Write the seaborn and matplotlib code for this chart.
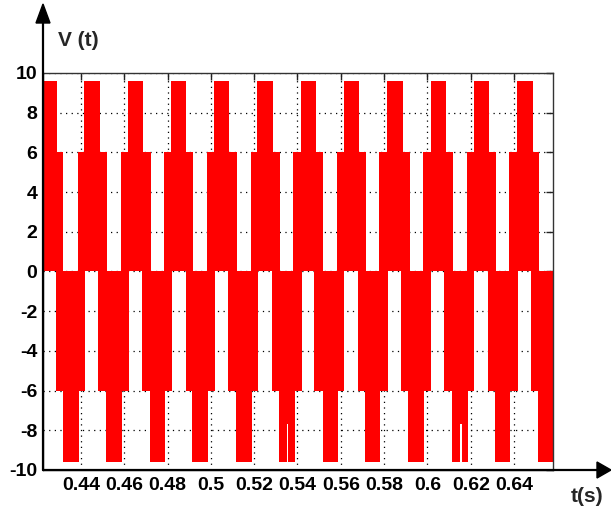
import matplotlib
matplotlib.use("Agg")
import matplotlib.pyplot as plt
import seaborn as sns
import pandas as pd
from matplotlib.patches import Polygon
from matplotlib.lines import Line2D
from matplotlib.ticker import FormatStrFormatter

# levels of the multilevel output voltage
v_mid = 6.0
v_peak = 9.6
notch_top = -7.7

# switching envelopes (seconds)
pos_band_start = [0.4182, 0.4385, 0.4583, 0.4783, 0.4981, 0.5184, 0.5381, 0.5581, 0.5778, 0.5978, 0.6182, 0.6378, 0.6579]
pos_band_end = [0.4318, 0.4521, 0.4723, 0.4919, 0.5122, 0.5319, 0.5519, 0.5716, 0.5920, 0.6117, 0.6317, 0.6514, 0.6720]
pos_peak_start = [0.4220, 0.4415, 0.4618, 0.4816, 0.5014, 0.5214, 0.5415, 0.5615, 0.5815, 0.6015, 0.6215, 0.6415]
pos_peak_end = [0.4291, 0.4488, 0.4688, 0.4885, 0.5085, 0.5285, 0.5485, 0.5685, 0.5886, 0.6086, 0.6286, 0.6486]
neg_band_start = [0.4085, 0.4287, 0.4480, 0.4683, 0.4885, 0.5080, 0.5284, 0.5478, 0.5681, 0.5878, 0.6078, 0.6279, 0.6479]
neg_band_end = [0.4226, 0.4421, 0.4623, 0.4822, 0.5020, 0.5219, 0.5419, 0.5615, 0.5817, 0.6015, 0.6217, 0.6417, 0.6620]
neg_peak_start = [0.4318, 0.4515, 0.4719, 0.4914, 0.5116, 0.5315, 0.5516, 0.5712, 0.5912, 0.6112, 0.6312, 0.6512]
neg_peak_end = [0.4392, 0.4588, 0.4788, 0.4985, 0.5188, 0.5388, 0.5586, 0.5781, 0.5984, 0.6186, 0.6382, 0.6582]
notch_start = [0.5350, 0.6151]
notch_end = [0.5357, 0.6158]

x_ticks = [0.44, 0.46, 0.48, 0.50, 0.52, 0.54, 0.56, 0.58, 0.60, 0.62, 0.64]
y_ticks = [-10, -8, -6, -4, -2, 0, 2, 4, 6, 8, 10]


def segments(starts, ends, low, high):
    return pd.DataFrame({"start": starts, "end": ends, "low": low, "high": high})


df = pd.concat([
    segments(pos_band_start, pos_band_end, 0, v_mid),
    segments(pos_peak_start, pos_peak_end, v_mid, v_peak),
    segments(neg_band_start, neg_band_end, -v_mid, 0),
    segments(neg_peak_start, neg_peak_end, -v_peak, -v_mid),
], ignore_index=True)
notches = segments(notch_start, notch_end, -v_peak - 0.1, notch_top)

sns.set_style("white")
plt.rcParams["font.family"] = ["Liberation Sans", "DejaVu Sans"]
plt.rcParams["axes.unicode_minus"] = False

W, H = 611, 514
fig = plt.figure(figsize=(W / 100, H / 100), dpi=100)
left, right, top, bottom = 43, 553, 73, 470
ax = fig.add_axes([left / W, 1 - bottom / H, (right - left) / W, (bottom - top) / H])

ax.bar(df["start"], df["high"] - df["low"], width=df["end"] - df["start"],
       bottom=df["low"], align="edge", color="#ff0000", linewidth=0, zorder=2)
ax.bar(notches["start"], notches["high"] - notches["low"], width=notches["end"] - notches["start"],
       bottom=notches["low"], align="edge", color="white", linewidth=0, zorder=3)

ax.set_xlim(0.4225, 0.658)
ax.set_ylim(-10, 10)
ax.set_xticks(x_ticks)
ax.set_yticks(y_ticks)
ax.xaxis.set_major_formatter(FormatStrFormatter("%g"))
ax.set_axisbelow(True)
ax.grid(True, color="black", linestyle=(0, (1, 3.5)), linewidth=0.9)
ax.tick_params(direction="in", length=5, width=1, top=True, right=True, colors="#222222",
               labelcolor="black", labelsize=14)
ax.tick_params(axis="x", pad=5)
ax.tick_params(axis="y", pad=4)
for lab in ax.get_xticklabels() + ax.get_yticklabels():
    lab.set_fontweight("bold")
for s in ax.spines.values():
    s.set_color("#333333")
    s.set_linewidth(1.0)


def fx(px):
    return px / W


def fy(py):
    return 1 - py / H


# axis arrows
fig.add_artist(Line2D([fx(left), fx(left)], [fy(bottom), fy(22)], color="black", lw=1.6))
fig.add_artist(Polygon([[fx(36), fy(23)], [fx(50), fy(23)], [fx(43), fy(4)]], closed=True,
                       color="black", transform=fig.transFigure))
fig.add_artist(Line2D([fx(left), fx(598)], [fy(bottom), fy(bottom)], color="black", lw=1.6))
fig.add_artist(Polygon([[fx(597), fy(462)], [fx(597), fy(478)], [fx(611), fy(470)]], closed=True,
                       color="black", transform=fig.transFigure))

fig.text(fx(58), fy(41), "V (t)", ha="left", va="center", fontsize=15, fontweight="bold")
fig.text(fx(587), fy(497), "t(s)", ha="center", va="center", fontsize=15, fontweight="bold")

fig.savefig("out.png", dpi=100)
